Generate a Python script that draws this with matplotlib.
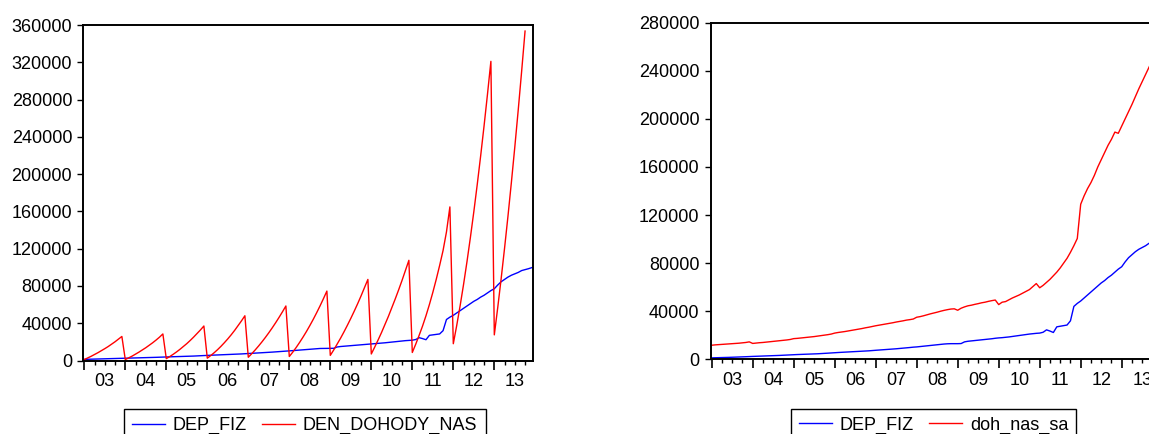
import numpy as np
import matplotlib
matplotlib.use("Agg")
import matplotlib.pyplot as plt
from matplotlib.ticker import FixedLocator, FixedFormatter, NullFormatter

plt.rcParams['font.family'] = ['Liberation Sans', 'DejaVu Sans']

# ---------------- data (monthly, 2003M01 - 2013M12) ----------------
start_year = 2003
n_months = 132
year_ticks = list(range(2003, 2014))
year_labels = ['03', '04', '05', '06', '07', '08', '09', '10', '11', '12', '13']

dep_fiz = [
    1200, 1300, 1400, 1450, 1500, 1600, 1700, 1800, 1900, 2000, 2150, 2300,
    2400, 2500, 2600, 2700, 2800, 2900, 3000, 3100, 3250, 3400, 3550, 3700,
    3850, 3950, 4050, 4150, 4250, 4350, 4450, 4600, 4750, 4900, 5100, 5300,
    5500, 5650, 5800, 5950, 6100, 6250, 6400, 6550, 6700, 6850, 7050, 7300,
    7500, 7700, 7900, 8100, 8300, 8500, 8750, 9000, 9250, 9500, 9800, 10100,
    10300, 10600, 10900, 11200, 11500, 11800, 12100, 12400, 12700, 12900, 13000, 13000,
    13000, 13100, 14500, 15000, 15300, 15600, 15900, 16200, 16500, 16800, 17100, 17500,
    17800, 18000, 18300, 18600, 19000, 19400, 19800, 20200, 20600, 21000, 21300, 21600,
    21800, 22500, 24500, 23500, 22300, 27000, 27500, 28000, 28500, 32000, 44000, 46500,
    48500, 51000, 53500, 56000, 58500, 61000, 63500, 65500, 68000, 70000, 72500, 75000,
    77000, 81000, 84500, 87000, 89500, 91500, 93000, 94500, 96500, 97500, 98500, 99700,
]

den_dohody_nas = [
    1000, 2700, 4500, 6400, 8400, 10500, 12700, 15000, 17500, 20100, 22900, 25800,
    1000, 2800, 4700, 6800, 9000, 11300, 13700, 16300, 19000, 21900, 25000, 28500,
    2000, 4200, 6600, 9200, 12000, 15000, 18100, 21500, 25100, 28900, 32800, 37000,
    2500, 5300, 8300, 11600, 15200, 19100, 23200, 27600, 32300, 37300, 42500, 48000,
    3500, 7250, 11250, 15500, 20000, 24750, 29750, 35000, 40500, 46250, 52250, 58500,
    4300, 8900, 13900, 19300, 25000, 31000, 37400, 44100, 51200, 58600, 66400, 74500,
    5500, 11300, 17500, 23900, 30700, 37800, 45200, 52900, 60900, 69300, 78000, 87000,
    7000, 14400, 22100, 30100, 38600, 47300, 56500, 66000, 75800, 86000, 96600, 107500,
    8600, 17500, 27000, 37000, 48000, 60000, 73000, 87000, 102000, 118000, 138000, 164800,
    18000, 37600, 58800, 81600, 106000, 132000, 159500, 188700, 219400, 251700, 285600, 321000,
    27500, 56700, 87700, 120500, 154900, 191200, 229100, 268800, 310300, 353500, np.nan, np.nan,
]

doh_nas_sa = [
    11700, 12000, 12200, 12400, 12600, 12800, 13000, 13200, 13400, 13700, 14000, 14500,
    13200, 13500, 13800, 14000, 14300, 14600, 14900, 15200, 15500, 15800, 16100, 16500,
    17200, 17400, 17700, 18000, 18300, 18600, 18900, 19300, 19700, 20100, 20500, 21000,
    21800, 22300, 22700, 23100, 23600, 24100, 24600, 25100, 25600, 26200, 26700, 27300,
    27900, 28400, 28900, 29400, 29900, 30400, 31000, 31500, 32000, 32600, 33000, 33500,
    35000, 35500, 36200, 37000, 37800, 38500, 39200, 40000, 40700, 41300, 41800, 42000,
    40800, 42500, 43600, 44500, 45000, 45700, 46300, 47000, 47500, 48200, 48800, 49300,
    45500, 47500, 48000, 49500, 51000, 52200, 53500, 55000, 56500, 58000, 60500, 63000,
    59500, 61500, 64000, 66500, 69500, 72500, 76000, 80000, 84000, 89000, 94500, 100500,
    129000, 136000, 142000, 147000, 153000, 160000, 166000, 172000, 178000, 183000, 189000, 188000,
    194000, 200000, 206000, 212000, 218500, 225000, 231000, 237000, 243000, 249000, np.nan, np.nan,
]

t = start_year + np.arange(n_months) / 12.0

BLUE = '#0000ff'
RED = '#ff0000'
FS = 13

W, H = 1149, 434
fig = plt.figure(figsize=(W / 100, H / 100), dpi=100)


def style_axes(ax, ymax, ystep):
    ax.set_xlim(2002.976, 2013.951)
    ax.set_ylim(0, ymax)
    ax.set_yticks(np.arange(0, ymax + 1, ystep))
    ax.set_yticklabels([f"{int(v)}" for v in np.arange(0, ymax + 1, ystep)])
    ax.xaxis.set_major_locator(FixedLocator(year_ticks))
    ax.xaxis.set_major_formatter(NullFormatter())
    minor_pos, minor_lab = [], []
    for y, lab in zip(year_ticks, year_labels):
        for q in (1, 2, 3):
            minor_pos.append(y + q / 4)
            minor_lab.append(lab if q == 2 else '')
    ax.xaxis.set_minor_locator(FixedLocator(minor_pos))
    ax.xaxis.set_minor_formatter(FixedFormatter(minor_lab))
    ax.tick_params(axis='x', which='major', direction='out', length=6.5, width=1.2,
                   labelsize=FS)
    ax.tick_params(axis='x', which='minor', direction='out', length=3, width=1.0,
                   pad=6, labelsize=FS)
    ax.tick_params(axis='y', which='major', direction='out', length=4.5, width=1.0,
                   pad=3.5, labelsize=FS)
    for s in ax.spines.values():
        s.set_linewidth(1.4)
        s.set_color('black')


# ---------------- left chart ----------------
ax1 = fig.add_axes([83.3 / W, 1 - 360.5 / H, 450 / W, 335.5 / H])
l1, = ax1.plot(t, dep_fiz, color=BLUE, lw=1.0, label='DEP_FIZ')
l2, = ax1.plot(t, den_dohody_nas, color=RED, lw=1.0, label='DEN_DOHODY_NAS')
style_axes(ax1, 360000, 40000)
leg_kw = dict(loc='upper left', bbox_transform=fig.transFigure, ncol=2,
              frameon=True, fancybox=False, edgecolor='black', framealpha=1,
              borderaxespad=0, borderpad=0.45, handlelength=1.8,
              handletextpad=0.45, columnspacing=0.85, fontsize=FS)
lg1 = fig.legend(handles=[l1, l2], bbox_to_anchor=(124 / W, 1 - 409 / H), **leg_kw)
lg1.get_frame().set_linewidth(1.0)

# ---------------- right chart ----------------
ax2 = fig.add_axes([710.7 / W, 1 - 359.3 / H, 450 / W, 336.6 / H])
r1, = ax2.plot(t, dep_fiz, color=BLUE, lw=1.0, label='DEP_FIZ')
r2, = ax2.plot(t, doh_nas_sa, color=RED, lw=1.0, label='doh_nas_sa')
style_axes(ax2, 280000, 40000)
lg2 = fig.legend(handles=[r1, r2], bbox_to_anchor=(791 / W, 1 - 408.5 / H), **leg_kw)
lg2.get_frame().set_linewidth(1.0)

fig.savefig('out.png', dpi=100)
